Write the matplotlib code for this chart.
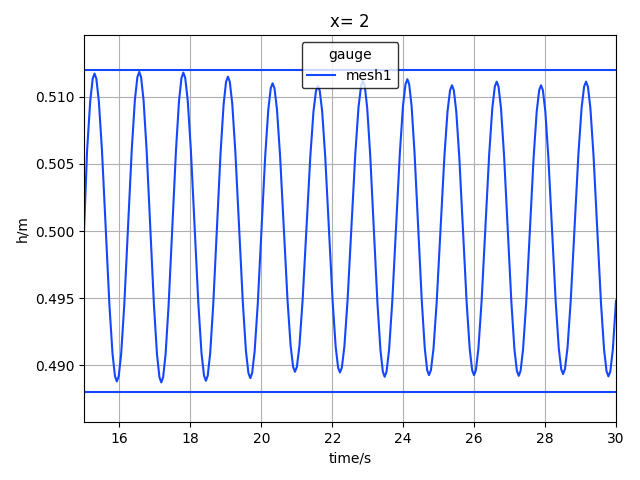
import matplotlib
matplotlib.use("Agg")
import matplotlib.pyplot as plt

# gauge record at x = 2
time = [
    15.000, 15.086, 15.174, 15.244,
    15.296, 15.348, 15.418, 15.506, 15.611, 15.715, 15.803, 15.873,
    15.925, 15.978, 16.048, 16.136, 16.241, 16.346, 16.434, 16.504,
    16.557, 16.609, 16.678, 16.764, 16.868, 16.971, 17.057, 17.126,
    17.178, 17.230, 17.299, 17.385, 17.489, 17.593, 17.679, 17.748,
    17.800, 17.853, 17.924, 18.012, 18.118, 18.224, 18.312, 18.383,
    18.436, 18.488, 18.557, 18.643, 18.747, 18.850, 18.936, 19.005,
    19.057, 19.110, 19.180, 19.267, 19.373, 19.478, 19.565, 19.635,
    19.688, 19.740, 19.810, 19.898, 20.003, 20.107, 20.195, 20.265,
    20.317, 20.370, 20.440, 20.527, 20.632, 20.737, 20.825, 20.895,
    20.947, 21.001, 21.073, 21.163, 21.271, 21.379, 21.469, 21.541,
    21.595, 21.647, 21.716, 21.802, 21.906, 22.009, 22.095, 22.164,
    22.216, 22.270, 22.342, 22.432, 22.541, 22.649, 22.739, 22.811,
    22.865, 22.916, 22.984, 23.069, 23.171, 23.273, 23.358, 23.426,
    23.477, 23.530, 23.601, 23.690, 23.797, 23.904, 23.993, 24.064,
    24.117, 24.168, 24.236, 24.320, 24.422, 24.524, 24.608, 24.676,
    24.727, 24.781, 24.853, 24.943, 25.051, 25.159, 25.249, 25.321,
    25.375, 25.427, 25.496, 25.582, 25.686, 25.789, 25.875, 25.944,
    25.996, 26.049, 26.120, 26.209, 26.316, 26.423, 26.512, 26.583,
    26.636, 26.688, 26.757, 26.843, 26.947, 27.050, 27.136, 27.205,
    27.257, 27.309, 27.379, 27.467, 27.572, 27.676, 27.764, 27.834,
    27.886, 27.938, 28.007, 28.093, 28.197, 28.300, 28.386, 28.455,
    28.507, 28.561, 28.633, 28.723, 28.831, 28.939, 29.029, 29.101,
    29.155, 29.208, 29.278, 29.366, 29.471, 29.576, 29.664, 29.734,
    29.787, 29.840, 29.910, 30.000,
]
h_mesh1 = [
    0.50000, 0.50599, 0.50965, 0.51133,
    0.51172, 0.51133, 0.50965, 0.50599, 0.50026, 0.49453, 0.49087, 0.48919,
    0.48880, 0.48919, 0.49088, 0.49456, 0.50032, 0.50608, 0.50976, 0.51145,
    0.51184, 0.51145, 0.50975, 0.50606, 0.50029, 0.49451, 0.49082, 0.48912,
    0.48873, 0.48912, 0.49081, 0.49450, 0.50026, 0.50603, 0.50971, 0.51140,
    0.51179, 0.51140, 0.50972, 0.50605, 0.50032, 0.49458, 0.49092, 0.48924,
    0.48885, 0.48923, 0.49090, 0.49451, 0.50017, 0.50583, 0.50944, 0.51111,
    0.51149, 0.51111, 0.50946, 0.50588, 0.50027, 0.49466, 0.49108, 0.48943,
    0.48905, 0.48942, 0.49103, 0.49454, 0.50003, 0.50551, 0.50902, 0.51063,
    0.51100, 0.51063, 0.50906, 0.50563, 0.50026, 0.49489, 0.49146, 0.48989,
    0.48952, 0.48988, 0.49144, 0.49484, 0.50016, 0.50548, 0.50888, 0.51044,
    0.51080, 0.51044, 0.50887, 0.50547, 0.50014, 0.49480, 0.49140, 0.48983,
    0.48947, 0.48984, 0.49143, 0.49490, 0.50032, 0.50575, 0.50921, 0.51080,
    0.51117, 0.51080, 0.50918, 0.50566, 0.50016, 0.49465, 0.49114, 0.48952,
    0.48915, 0.48953, 0.49115, 0.49469, 0.50023, 0.50576, 0.50930, 0.51092,
    0.51130, 0.51093, 0.50931, 0.50579, 0.50029, 0.49478, 0.49126, 0.48964,
    0.48927, 0.48964, 0.49122, 0.49467, 0.50006, 0.50546, 0.50890, 0.51048,
    0.51085, 0.51048, 0.50890, 0.50545, 0.50006, 0.49466, 0.49122, 0.48964,
    0.48927, 0.48964, 0.49125, 0.49473, 0.50020, 0.50566, 0.50914, 0.51075,
    0.51112, 0.51075, 0.50914, 0.50564, 0.50017, 0.49469, 0.49120, 0.48959,
    0.48922, 0.48959, 0.49118, 0.49463, 0.50004, 0.50544, 0.50889, 0.51048,
    0.51085, 0.51048, 0.50891, 0.50547, 0.50010, 0.49472, 0.49129, 0.48972,
    0.48935, 0.48972, 0.49132, 0.49479, 0.50024, 0.50568, 0.50915, 0.51075,
    0.51112, 0.51075, 0.50914, 0.50563, 0.50015, 0.49466, 0.49116, 0.48955,
    0.48918, 0.48955, 0.49116, 0.49482,
]

# reference levels drawn across the whole window
h_upper = 0.512
h_lower = 0.488

color = '#1447ff'

fig, ax = plt.subplots(figsize=(6.4, 4.8), dpi=100)

ax.plot(time, h_mesh1, color=color, linewidth=1.5, label='mesh1')
ax.axhline(h_upper, color=color, linewidth=1.5)
ax.axhline(h_lower, color=color, linewidth=1.5)

ax.set_xlim(15, 30)
ax.set_ylim(0.48576, 0.51457)
ax.set_title("x= 2")
ax.set_xlabel("time/s")
ax.set_ylabel("h/m")
ax.grid(True)
ax.legend(title="gauge", loc='upper center', edgecolor='black')

plt.subplots_adjust(left=0.1313, right=0.9625, top=0.9265, bottom=0.1202)
plt.savefig('out.png')
